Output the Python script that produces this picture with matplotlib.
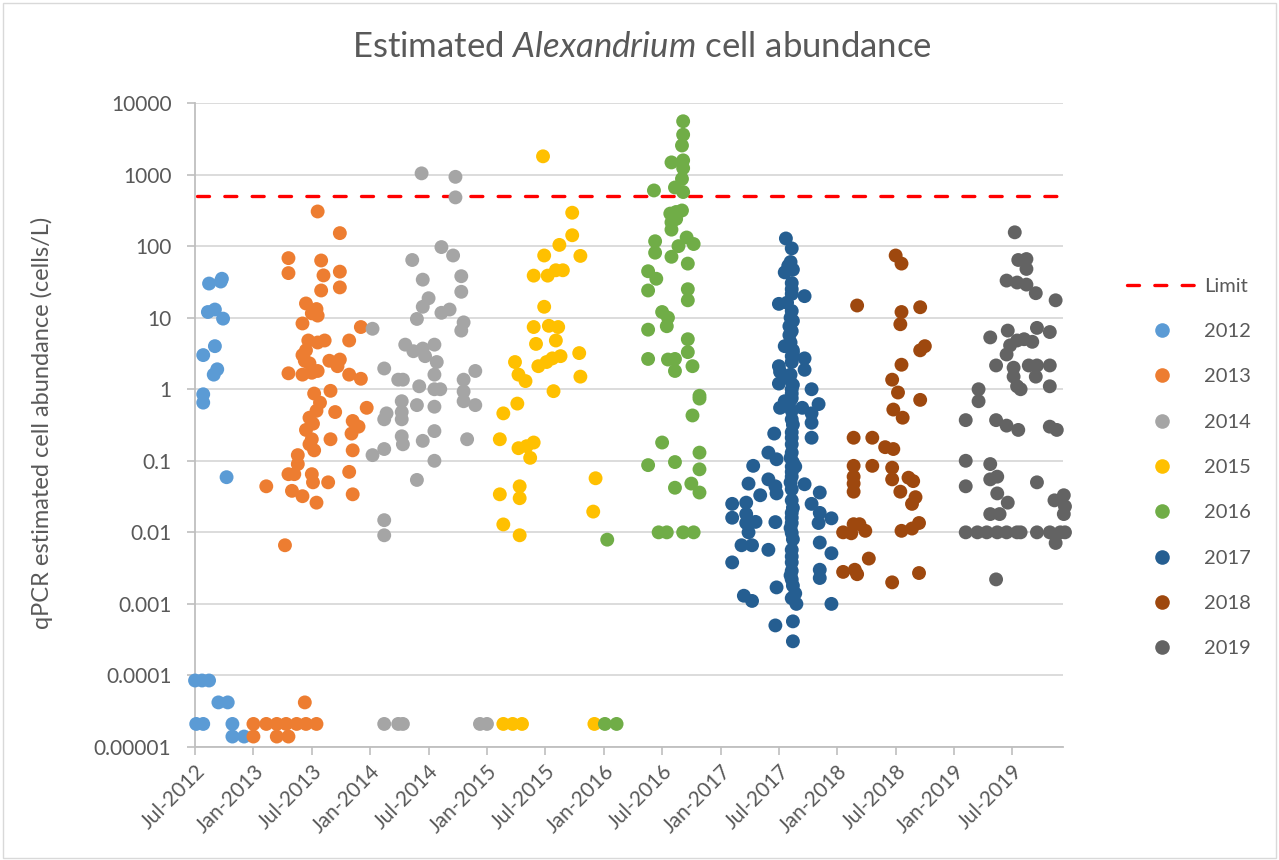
import matplotlib
matplotlib.use("Agg")
import matplotlib.pyplot as plt
from matplotlib.lines import Line2D
from matplotlib.patches import Rectangle
from matplotlib.ticker import FixedLocator, NullLocator

plt.rcParams["font.family"] = ["Lato", "DejaVu Sans"]
plt.rcParams["mathtext.fontset"] = "custom"
plt.rcParams["mathtext.rm"] = "Lato"
plt.rcParams["mathtext.it"] = "Lato:italic"

# sampling date (decimal year) and qPCR estimated abundance (cells/L)
x_2012 = [2012.62, 2012.72, 2012.73, 2012.61, 2012.67, 2012.74, 2012.57, 2012.67,
          2012.69, 2012.66, 2012.57, 2012.57, 2012.77, 2012.50, 2012.56, 2012.62,
          2012.70, 2012.78, 2012.51, 2012.57, 2012.82, 2012.82, 2012.92]
y_2012 = [30, 32, 35, 12, 13, 9.7, 3.0, 4.0,
          1.9, 1.6, 0.85, 0.65, 0.059, 8.5e-5, 8.5e-5, 8.5e-5,
          4.2e-5, 4.2e-5, 2.1e-5, 2.1e-5, 2.1e-5, 1.4e-5, 1.4e-5]

x_2013 = [2013.55, 2013.74, 2013.30, 2013.30, 2013.58, 2013.60, 2013.58, 2013.74,
          2013.74, 2013.45, 2013.54, 2013.55, 2013.42, 2013.50, 2013.47, 2013.61,
          2013.55, 2013.42, 2013.45, 2013.44, 2013.48, 2013.30, 2013.42, 2013.50,
          2013.55, 2013.65, 2013.74, 2013.72, 2013.82, 2013.92, 2013.82, 2013.92,
          2013.52, 2013.57, 2013.54, 2013.66, 2013.70, 2013.97, 2013.85, 2013.90,
          2013.84, 2013.48, 2013.51, 2013.45, 2013.50, 2013.52, 2013.48, 2013.66,
          2013.85, 2013.38, 2013.38, 2013.35, 2013.30, 2013.50, 2013.51, 2013.64,
          2013.82, 2013.11, 2013.33, 2013.42, 2013.54, 2013.85, 2013.27, 2013.44,
          2013.00, 2013.11, 2013.20, 2013.28, 2013.37, 2013.45, 2013.54,
          2013.00, 2013.20, 2013.30]
y_2013 = [305, 152, 68, 42, 63, 39, 24, 44,
          26.5, 15.8, 13.2, 10.7, 8.3, 11.5, 4.8, 4.8,
          4.5, 3.0, 3.5, 2.5, 2.3, 1.67, 1.6, 1.7,
          1.8, 2.5, 2.6, 2.1, 4.8, 7.4, 1.6, 1.4,
          0.87, 0.65, 0.5, 0.95, 0.48, 0.55, 0.36, 0.3,
          0.24, 0.4, 0.33, 0.27, 0.2, 0.14, 0.17, 0.2,
          0.14, 0.12, 0.09, 0.065, 0.065, 0.065, 0.05, 0.05,
          0.07, 0.044, 0.038, 0.032, 0.026, 0.034, 0.0066, 4.2e-5,
          2.1e-5, 2.1e-5, 2.1e-5, 2.1e-5, 2.1e-5, 2.1e-5, 2.1e-5,
          1.4e-5, 1.4e-5, 1.4e-5]

x_2014 = [2014.44, 2014.73, 2014.73, 2014.61, 2014.71, 2014.36, 2014.45, 2014.78,
          2014.78, 2014.50, 2014.45, 2014.40, 2014.61, 2014.68, 2014.80, 2014.78,
          2014.02, 2014.30, 2014.37, 2014.45, 2014.55, 2014.47, 2014.57, 2014.12,
          2014.24, 2014.28, 2014.55, 2014.55, 2014.60, 2014.42, 2014.80, 2014.80,
          2014.80, 2014.90, 2014.90, 2014.27, 2014.27, 2014.14, 2014.12, 2014.27,
          2014.40, 2014.55, 2014.27, 2014.28, 2014.45, 2014.55, 2014.12, 2014.02,
          2014.83, 2014.55, 2014.40, 2014.12, 2014.12,
          2014.12, 2014.24, 2014.28, 2014.94, 2015.00]
y_2014 = [1040, 930, 480, 97, 74, 64, 34, 38,
          23, 18.7, 14.2, 9.6, 11.7, 13, 8.6, 6.6,
          7.0, 4.2, 3.4, 3.7, 4.2, 2.9, 2.4, 1.95,
          1.36, 1.36, 1.6, 1.0, 1.0, 1.1, 1.36, 0.93,
          0.68, 1.8, 0.6, 0.68, 0.48, 0.46, 0.38, 0.38,
          0.6, 0.57, 0.22, 0.17, 0.19, 0.26, 0.146, 0.12,
          0.2, 0.1, 0.054, 0.0148, 0.0091,
          2.1e-5, 2.1e-5, 2.1e-5, 2.1e-5, 2.1e-5]

x_2015 = [2015.48, 2015.73, 2015.73, 2015.62, 2015.49, 2015.80, 2015.40, 2015.52,
          2015.59, 2015.65, 2015.49, 2015.40, 2015.53, 2015.61, 2015.59, 2015.42,
          2015.79, 2015.44, 2015.51, 2015.56, 2015.63, 2015.24, 2015.27, 2015.33,
          2015.80, 2015.57, 2015.26, 2015.14, 2015.11, 2015.27, 2015.34, 2015.40,
          2015.37, 2015.93, 2015.11, 2015.28, 2015.28, 2015.91, 2015.14, 2015.28,
          2015.14, 2015.22, 2015.30, 2015.92]
y_2015 = [1800, 293, 142, 104, 74, 73, 38.7, 38.7,
          46, 46, 14.2, 7.4, 7.7, 7.4, 4.8, 4.3,
          3.2, 2.1, 2.4, 2.7, 2.9, 2.4, 1.6, 1.3,
          1.5, 0.94, 0.63, 0.46, 0.2, 0.15, 0.16, 0.18,
          0.11, 0.057, 0.034, 0.044, 0.03, 0.0195, 0.0129, 0.0091,
          2.1e-5, 2.1e-5, 2.1e-5, 2.1e-5]

x_2016 = [2016.68, 2016.68, 2016.67, 2016.58, 2016.68, 2016.68, 2016.67, 2016.61,
          2016.68, 2016.43, 2016.57, 2016.62, 2016.67, 2016.58, 2016.62, 2016.58,
          2016.71, 2016.77, 2016.64, 2016.58, 2016.44, 2016.44, 2016.72, 2016.38,
          2016.45, 2016.38, 2016.72, 2016.72, 2016.50, 2016.55, 2016.54, 2016.38,
          2016.72, 2016.72, 2016.38, 2016.55, 2016.61, 2016.61, 2016.76, 2016.82,
          2016.82, 2016.76, 2016.50, 2016.38, 2016.61, 2016.82, 2016.82, 2016.75,
          2016.82, 2016.61, 2016.47, 2016.54, 2016.68, 2016.77, 2016.03,
          2016.01, 2016.11]
y_2016 = [5560, 3610, 2550, 1480, 1580, 1230, 870, 660,
          570, 600, 285, 300, 315, 215, 240, 170,
          132, 107, 100, 71, 117, 81, 57, 44.6,
          35, 24, 25, 17.5, 12, 10, 7.6, 6.8,
          5.0, 3.3, 2.65, 2.6, 2.65, 1.8, 2.1, 0.81,
          0.74, 0.43, 0.18, 0.087, 0.096, 0.13, 0.076, 0.048,
          0.036, 0.042, 0.01, 0.01, 0.01, 0.01, 0.0079,
          2.1e-5, 2.1e-5]

x_2017 = [2017.56, 2017.61, 2017.58, 2017.55, 2017.62, 2017.61, 2017.61, 2017.72,
          2017.50, 2017.57, 2017.61, 2017.59, 2017.59, 2017.55, 2017.62, 2017.61,
          2017.72, 2017.72, 2017.50, 2017.50, 2017.51, 2017.59, 2017.61, 2017.78,
          2017.84, 2017.78, 2017.78, 2017.78, 2017.70, 2017.51, 2017.55, 2017.61,
          2017.61, 2017.61, 2017.61, 2017.61, 2017.46, 2017.41, 2017.48, 2017.61,
          2017.61, 2017.64, 2017.61, 2017.28, 2017.24, 2017.41, 2017.47, 2017.48,
          2017.72, 2017.61, 2017.61, 2017.61, 2017.61, 2017.61, 2017.85, 2017.78,
          2017.34, 2017.10, 2017.10, 2017.22, 2017.22, 2017.22, 2017.30, 2017.85,
          2017.84, 2017.95, 2017.47, 2017.24, 2017.18, 2017.27, 2017.41, 2017.61,
          2017.85, 2017.95, 2017.10, 2017.61, 2017.61, 2017.61, 2017.64, 2017.65,
          2017.85, 2017.85, 2017.20, 2017.27, 2017.48, 2017.95, 2017.47, 2017.62,
          2017.62,
          2017.60, 2017.61, 2017.60, 2017.62, 2017.61, 2017.60, 2017.62, 2017.61,
          2017.60, 2017.62, 2017.61, 2017.60, 2017.62, 2017.61, 2017.60, 2017.62,
          2017.61, 2017.60, 2017.62, 2017.61, 2017.60, 2017.62, 2017.61, 2017.60,
          2017.62, 2017.61]
y_2017 = [128, 93, 53, 43, 47, 30.5, 21.5, 20,
          15.6, 16.2, 12.4, 7.6, 5.7, 4.0, 3.5, 2.9,
          2.7, 1.87, 2.1, 1.2, 1.75, 1.4, 1.0, 1.0,
          0.62, 0.46, 0.34, 0.21, 0.55, 0.55, 0.68, 0.87,
          0.5, 0.38, 0.25, 0.17, 0.24, 0.13, 0.105, 0.13,
          0.083, 0.083, 0.06, 0.085, 0.048, 0.055, 0.044, 0.035,
          0.047, 0.04, 0.028, 0.0187, 0.0135, 0.0098, 0.036, 0.025,
          0.033, 0.025, 0.016, 0.026, 0.018, 0.0135, 0.014, 0.0187,
          0.0135, 0.0157, 0.0139, 0.01, 0.0066, 0.0066, 0.0057, 0.0057,
          0.0072, 0.0051, 0.0038, 0.0038, 0.0029, 0.0022, 0.0014, 0.001,
          0.003, 0.0023, 0.0013, 0.0011, 0.0017, 0.001, 0.0005, 0.00057,
          0.0003,
          60, 25, 10, 9, 6.5, 4.5, 3.2, 2.4,
          1.6, 1.15, 0.75, 0.7, 0.32, 0.21, 0.11, 0.095,
          0.07, 0.05, 0.022, 0.016, 0.0115, 0.008, 0.0046, 0.0025,
          0.0018, 0.0012]

x_2018 = [2018.17, 2018.50, 2018.55, 2018.55, 2018.54, 2018.71, 2018.71, 2018.75,
          2018.55, 2018.47, 2018.52, 2018.71, 2018.48, 2018.56, 2018.14, 2018.30,
          2018.41, 2018.48, 2018.14, 2018.30, 2018.47, 2018.47, 2018.61, 2018.65,
          2018.14, 2018.14, 2018.14, 2018.54, 2018.67, 2018.64, 2018.05, 2018.14,
          2018.19, 2018.24, 2018.12, 2018.55, 2018.64, 2018.70, 2018.27, 2018.05,
          2018.15, 2018.17, 2018.47, 2018.70]
y_2018 = [14.8, 74, 57, 12, 8.1, 14, 3.5, 4.0,
          2.2, 1.36, 0.9, 0.71, 0.52, 0.4, 0.21, 0.21,
          0.155, 0.146, 0.085, 0.085, 0.08, 0.055, 0.058, 0.052,
          0.06, 0.048, 0.037, 0.037, 0.031, 0.025, 0.01, 0.013,
          0.013, 0.0105, 0.0097, 0.0105, 0.0113, 0.0135, 0.0043, 0.0028,
          0.003, 0.0026, 0.002, 0.0027]

x_2019 = [2019.52, 2019.55, 2019.62, 2019.62, 2019.45, 2019.54, 2019.62, 2019.70,
          2019.87, 2019.31, 2019.46, 2019.71, 2019.82, 2019.54, 2019.60, 2019.67,
          2019.48, 2019.45, 2019.36, 2019.51, 2019.64, 2019.71, 2019.82, 2019.51,
          2019.54, 2019.57, 2019.70, 2019.82, 2019.21, 2019.21, 2019.10, 2019.36,
          2019.45, 2019.55, 2019.82, 2019.88, 2019.10, 2019.31, 2019.31, 2019.37,
          2019.10, 2019.37, 2019.46, 2019.71, 2019.86, 2019.94, 2019.95, 2019.94,
          2019.31, 2019.39,
          2019.10, 2019.20, 2019.28, 2019.37, 2019.45, 2019.54, 2019.57, 2019.71,
          2019.82, 2019.91, 2019.95, 2019.87, 2019.36]
y_2019 = [156, 64, 66, 48, 33, 31, 29, 22,
          17.5, 5.3, 6.6, 7.2, 6.3, 4.8, 5.0, 4.6,
          4.1, 3.06, 2.15, 2.0, 2.15, 2.15, 2.15, 1.5,
          1.1, 1.0, 1.5, 1.1, 1.0, 0.68, 0.37, 0.37,
          0.31, 0.27, 0.3, 0.27, 0.1, 0.09, 0.055, 0.06,
          0.044, 0.035, 0.026, 0.05, 0.028, 0.033, 0.023, 0.018,
          0.018, 0.018,
          0.01, 0.01, 0.01, 0.01, 0.01, 0.01, 0.01, 0.01,
          0.01, 0.01, 0.01, 0.0071, 0.0022]

limit_value = 500
limit_start, limit_end = 2012.52, 2019.90

years = ["2012", "2013", "2014", "2015", "2016", "2017", "2018", "2019"]
colors = ["#5B9BD5", "#ED7D31", "#A5A5A5", "#FFC000",
          "#70AD47", "#255E91", "#9E480E", "#636363"]
xs = [x_2012, x_2013, x_2014, x_2015, x_2016, x_2017, x_2018, x_2019]
ys = [y_2012, y_2013, y_2014, y_2015, y_2016, y_2017, y_2018, y_2019]

tick_pos = [2012.5 + 0.5 * i for i in range(15)]
tick_labels = ["Jul-2012", "Jan-2013", "Jul-2013", "Jan-2014", "Jul-2014",
               "Jan-2015", "Jul-2015", "Jan-2016", "Jul-2016", "Jan-2017",
               "Jul-2017", "Jan-2018", "Jul-2018", "Jan-2019", "Jul-2019"]
y_ticks = [1e-5, 1e-4, 1e-3, 1e-2, 1e-1, 1, 10, 100, 1000, 10000]
y_tick_labels = ["0.00001", "0.0001", "0.001", "0.01", "0.1",
                 "1", "10", "100", "1000", "10000"]

text_col = "#595959"
axis_col = "#BFBFBF"

fig = plt.figure(figsize=(12.79, 8.60), dpi=100)
ax = fig.add_axes([0.1525, 0.1314, 0.6787, 0.7488])

ax.hlines(limit_value, limit_start, limit_end, colors="#FF0000", lw=2.4,
          linestyles=(0, (3.6, 4.6)), capstyle="round", zorder=2)
for x, y, c in zip(xs, ys, colors):
    ax.scatter(x, y, s=100, color=c, edgecolors="none", zorder=3, clip_on=False)

ax.set_yscale("log")
ax.set_ylim(1e-5, 1e4)
ax.set_xlim(2012.5, 2019.934)
ax.yaxis.set_major_locator(FixedLocator(y_ticks))
ax.yaxis.set_minor_locator(NullLocator())
ax.set_yticklabels(y_tick_labels)
ax.set_xticks(tick_pos)
ax.set_xticklabels(tick_labels, rotation=45, ha="right", rotation_mode="anchor")

ax.yaxis.grid(True, color="#D9D9D9", lw=1.3)
ax.set_axisbelow(True)
for side in ["top", "right"]:
    ax.spines[side].set_visible(False)
for side in ["left", "bottom"]:
    ax.spines[side].set_color(axis_col)
    ax.spines[side].set_linewidth(1.3)
ax.tick_params(axis="both", colors=axis_col, labelcolor=text_col,
               length=6, width=1.2, labelsize=15)
ax.tick_params(axis="x", pad=4)
ax.tick_params(axis="y", pad=11)

fig.text(0.502, 0.945, r"Estimated $\it{Alexandrium}$ cell abundance",
         ha="center", va="center", fontsize=25, color=text_col)
fig.text(0.033, 0.508, "qPCR estimated cell abundance (cells/L)",
         rotation=90, ha="center", va="center", fontsize=17, color=text_col)

handles = [Line2D([], [], color="#FF0000", lw=2.4, ls=(0, (3.6, 4.6)),
                  dash_capstyle="round")]
handles += [Line2D([], [], ls="", marker="o", ms=10.5, color=c, mec="none")
            for c in colors]
fig.legend(handles, ["Limit"] + years, loc="center left",
           bbox_to_anchor=(0.881, 0.4564), frameon=False, fontsize=14.5,
           labelcolor=text_col, handlelength=3.5, handletextpad=0.35,
           labelspacing=1.4, borderpad=0, borderaxespad=0)

fig.patches.append(Rectangle((0.002, 0.002), 0.996, 0.995, transform=fig.transFigure,
                             fill=False, ec="#D9D9D9", lw=1))

fig.savefig("out.png", dpi=100)
